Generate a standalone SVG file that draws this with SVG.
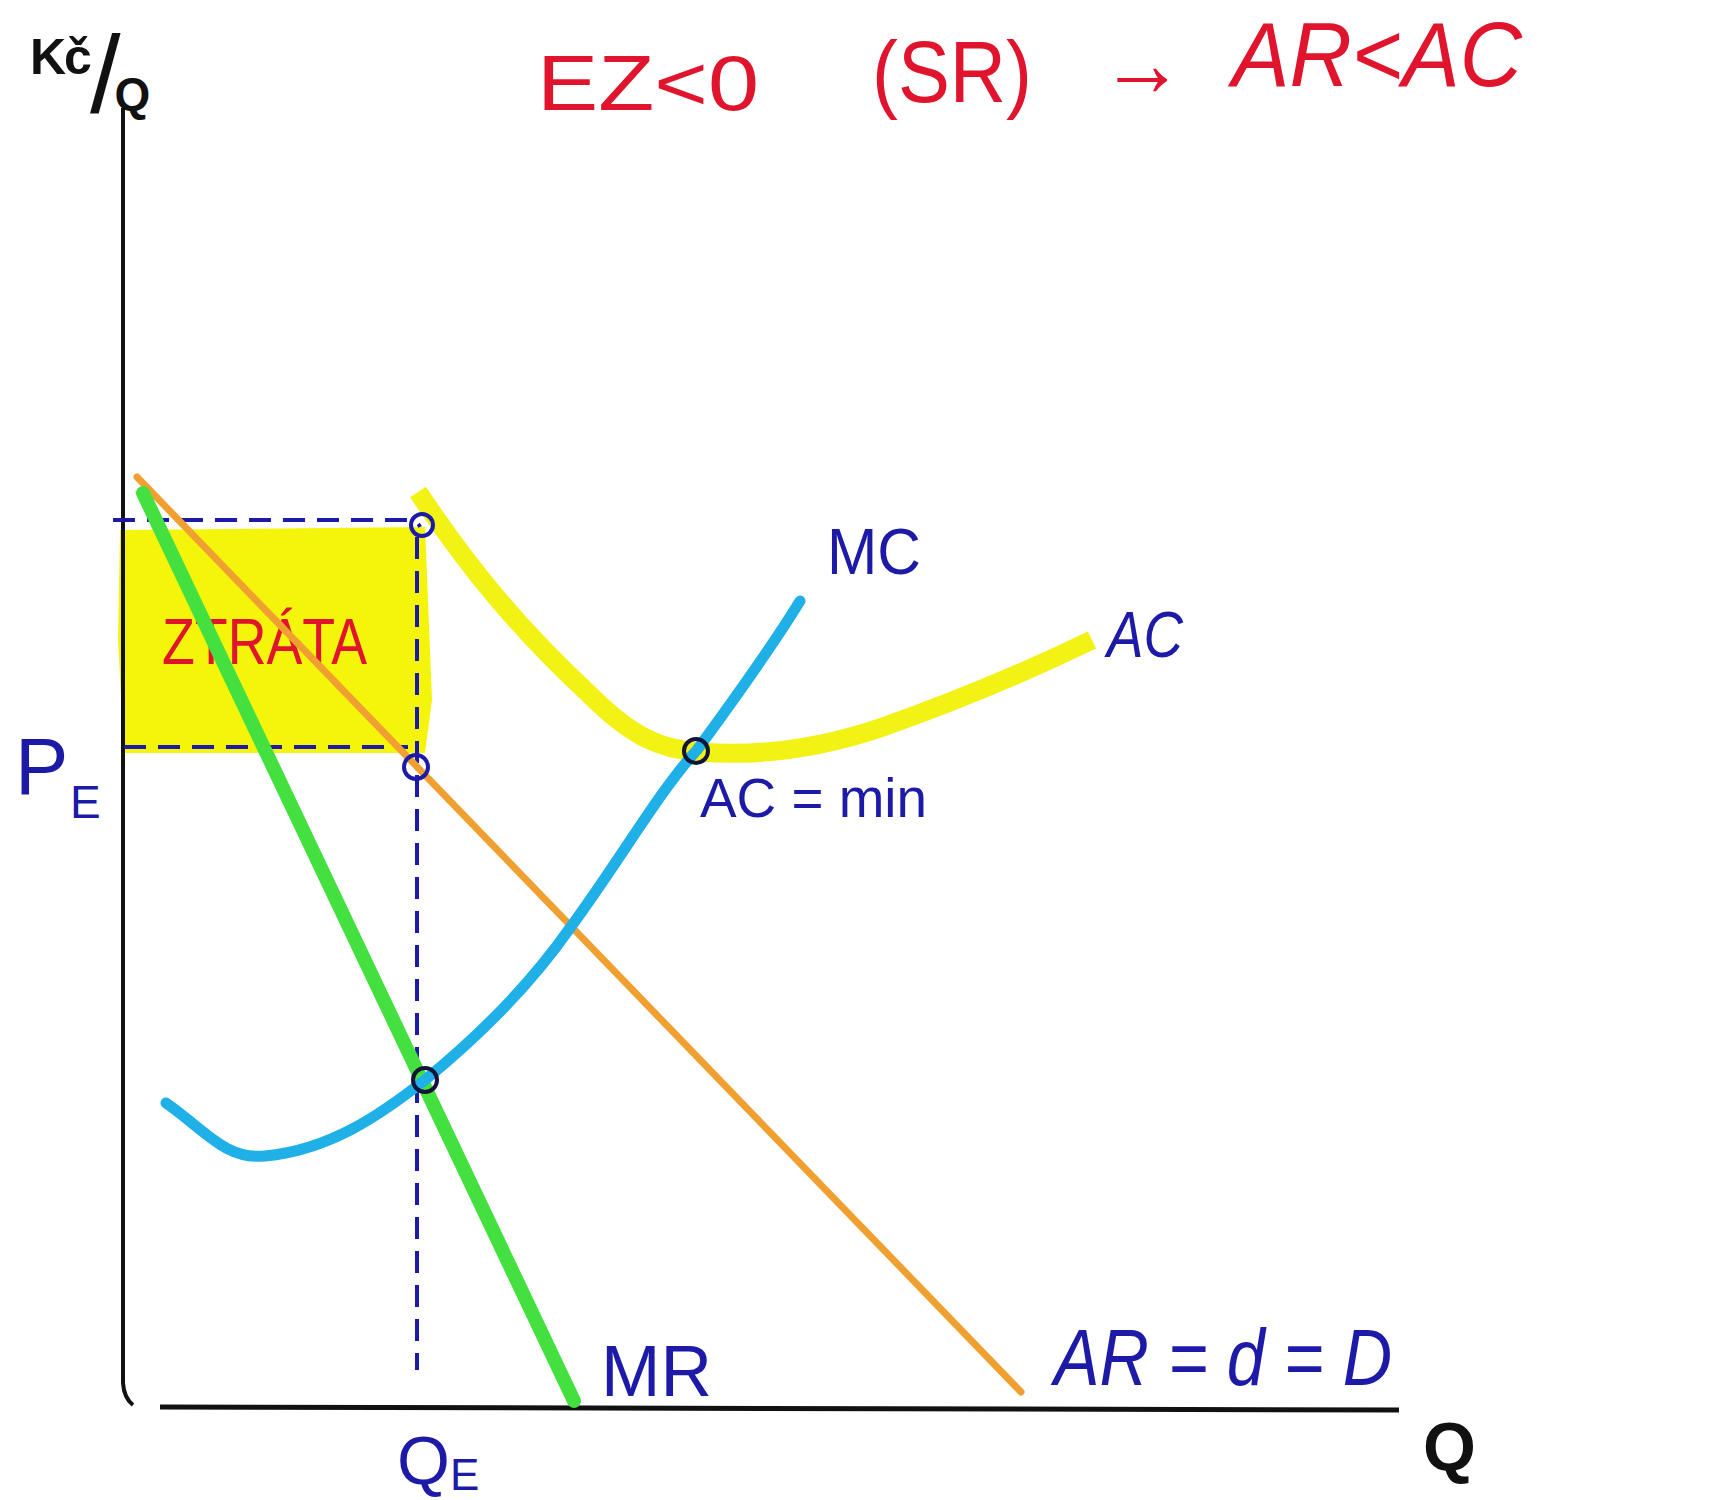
<svg xmlns="http://www.w3.org/2000/svg" width="1730" height="1500" viewBox="0 0 1730 1500">
<style>
.t{font-family:"Liberation Sans","DejaVu Sans",sans-serif}
.red{fill:#e0142c}
.navy{fill:#1c1aa6}
.blk{fill:#111}
.dash{fill:none;stroke:#1c1aa6;stroke-width:4;stroke-dasharray:22 12}
.pt{fill:none;stroke-width:4}
</style>
<rect width="1730" height="1500" fill="#ffffff"/>
<g id="loss-area">
<path d="M120,530 L425,527 L428,600 L432,700 L425,753 L124,753 L118,640 Z" fill="#f5f50c"/>
<text class="t red" x="162" y="664" font-size="64" textLength="205" lengthAdjust="spacingAndGlyphs">ZTRÁTA</text>
</g>
<g id="axes">
<path d="M123,108 L123,1383 Q124,1398 133,1405" fill="none" stroke="#111" stroke-width="4"/>
<path d="M160,1407 L1399,1410" fill="none" stroke="#111" stroke-width="5"/>
</g>
<g id="connectors">
<path class="dash" d="M113,520 L408,520 Q418,521 420,527"/>
<path class="dash" d="M124,747 L408,747"/>
<path class="dash" d="M417,537 L417,1370"/>
</g>
<g id="AC-curve">
<path d="M418,492 C470,570 520,630 590,695 C630,735 660,750 700,752 C760,757 820,748 880,728 C960,700 1030,670 1092,640" fill="none" stroke="#f2f214" stroke-width="19" stroke-linecap="butt"/>
</g>
<g id="AR-line">
<line x1="137" y1="477" x2="1021" y2="1392" stroke="#f0a030" stroke-width="7" stroke-linecap="round"/>
</g>
<g id="MR-line">
<line x1="143" y1="493" x2="574" y2="1401" stroke="#44e040" stroke-width="14" stroke-linecap="round"/>
</g>
<g id="MC-curve">
<path d="M166,1103 C205,1130 225,1160 265,1156 C330,1150 380,1115 425,1080 C480,1035 530,985 570,928 C620,860 660,790 697,750 C730,705 770,650 800,601" fill="none" stroke="#1eb0e6" stroke-width="11" stroke-linecap="round"/>
</g>
<g id="points">
<circle class="pt" cx="422" cy="525" r="11" stroke="#1c1aa6"/>
<circle class="pt" cx="416" cy="767" r="12" stroke="#1c1aa6"/>
<circle class="pt" cx="425" cy="1080" r="12" stroke="#14143a"/>
<circle class="pt" cx="696" cy="751" r="12" stroke="#14143a"/>
</g>
<g id="title">
<text class="t red" x="537" y="110" font-size="78" textLength="222" lengthAdjust="spacingAndGlyphs">EZ&lt;0</text>
<text class="t red" x="872" y="102" font-size="88" textLength="160" lengthAdjust="spacingAndGlyphs">(SR)</text>
<text class="t red" x="1100" y="96" font-size="96" textLength="84" lengthAdjust="spacingAndGlyphs">→</text>
<text class="t red" x="1232" y="86" font-size="90" font-style="italic" textLength="290" lengthAdjust="spacingAndGlyphs">AR&lt;AC</text>
</g>
<g id="y-label">
<text class="t blk" x="30" y="74" font-size="50" font-weight="bold" letter-spacing="-2">Kč<tspan font-weight="normal" font-size="110" dy="38" letter-spacing="-6">/</tspan><tspan font-size="46" dy="-2" letter-spacing="0">Q</tspan></text>
</g>
<g id="labels">
<text class="t navy" x="827" y="574" font-size="64" textLength="94" lengthAdjust="spacingAndGlyphs">MC</text>
<text class="t navy" x="1107" y="657" font-size="64" font-style="italic" textLength="76" lengthAdjust="spacingAndGlyphs">AC</text>
<text class="t navy" x="700" y="817" font-size="56" textLength="227" lengthAdjust="spacingAndGlyphs">AC = min</text>
<text class="t navy" x="15" y="794" font-size="80">P</text>
<text class="t navy" x="70" y="818" font-size="46">E</text>
<text class="t navy" x="397" y="1484" font-size="68">Q<tspan font-size="44" dy="6">E</tspan></text>
<text class="t navy" x="601" y="1396" font-size="72" textLength="111" lengthAdjust="spacingAndGlyphs">MR</text>
<text class="t navy" x="1054" y="1385" font-size="80" font-style="italic" textLength="338" lengthAdjust="spacingAndGlyphs">AR = d = D</text>
<text class="t blk" x="1423" y="1470" font-size="68" font-weight="bold">Q</text>
</g>
</svg>
